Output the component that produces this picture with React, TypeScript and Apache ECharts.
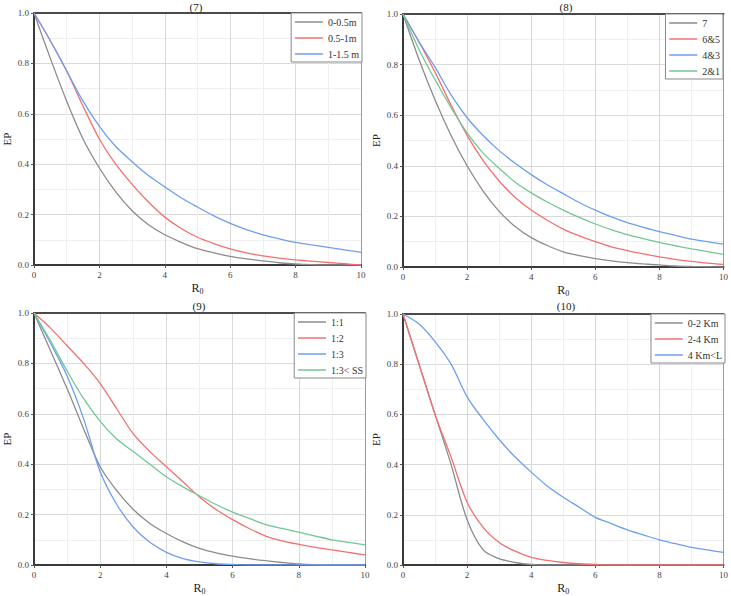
import React, { useEffect, useRef } from "react";
import * as echarts from "echarts";

// Shared R0 sample positions (step 0.5)
const r0 = [0, 0.5, 1, 1.5, 2, 2.5, 3, 3.5, 4, 4.5, 5, 5.5, 6, 6.5, 7, 7.5, 8, 8.5, 9, 9.5, 10];

// (7)
const ep7a = [1, 0.82, 0.65, 0.5, 0.385, 0.29, 0.215, 0.16, 0.12, 0.09, 0.065, 0.048, 0.034, 0.024, 0.016, 0.009, 0.004, 0.001, 0, 0, 0];
const ep7b = [1, 0.89, 0.77, 0.63, 0.5, 0.4, 0.32, 0.25, 0.19, 0.145, 0.11, 0.085, 0.064, 0.048, 0.036, 0.027, 0.02, 0.015, 0.01, 0.005, 0];
const ep7c = [1, 0.89, 0.77, 0.65, 0.55, 0.47, 0.41, 0.355, 0.31, 0.267, 0.23, 0.195, 0.165, 0.14, 0.12, 0.104, 0.09, 0.08, 0.07, 0.06, 0.05];
// (8)
const ep8a = [1, 0.82, 0.66, 0.52, 0.4, 0.3, 0.22, 0.16, 0.116, 0.085, 0.06, 0.045, 0.033, 0.024, 0.017, 0.012, 0.008, 0.004, 0.002, 0.001, 0];
const ep8b = [1, 0.89, 0.77, 0.64, 0.52, 0.42, 0.34, 0.275, 0.225, 0.185, 0.15, 0.123, 0.1, 0.08, 0.065, 0.052, 0.04, 0.03, 0.022, 0.015, 0.01];
const ep8c = [1, 0.89, 0.79, 0.68, 0.59, 0.52, 0.46, 0.41, 0.365, 0.325, 0.29, 0.255, 0.225, 0.198, 0.175, 0.157, 0.14, 0.125, 0.11, 0.1, 0.09];
const ep8d = [1, 0.86, 0.74, 0.63, 0.53, 0.45, 0.39, 0.335, 0.293, 0.257, 0.225, 0.196, 0.17, 0.148, 0.128, 0.112, 0.097, 0.084, 0.072, 0.061, 0.05];
// (9)
const ep9a = [1, 0.85, 0.7, 0.54, 0.39, 0.295, 0.22, 0.165, 0.125, 0.092, 0.066, 0.048, 0.035, 0.025, 0.017, 0.01, 0.004, 0.001, 0, 0, 0];
const ep9b = [1, 0.94, 0.87, 0.8, 0.72, 0.62, 0.52, 0.45, 0.39, 0.33, 0.27, 0.22, 0.18, 0.145, 0.115, 0.096, 0.082, 0.07, 0.06, 0.05, 0.04];
const ep9c = [1, 0.88, 0.75, 0.58, 0.37, 0.24, 0.15, 0.09, 0.05, 0.025, 0.012, 0.005, 0.002, 0, 0, 0, 0, 0, 0, 0, 0];
const ep9d = [1, 0.89, 0.77, 0.66, 0.57, 0.5, 0.45, 0.4, 0.35, 0.31, 0.275, 0.24, 0.21, 0.185, 0.16, 0.145, 0.13, 0.115, 0.1, 0.09, 0.08];
// (10)
const ep10a = [1, 0.8, 0.6, 0.4, 0.18, 0.06, 0.025, 0.01, 0.002, 0, 0, 0, 0, 0, 0, 0, 0, 0, 0, 0, 0];
const ep10b = [1, 0.8, 0.6, 0.43, 0.25, 0.15, 0.09, 0.055, 0.03, 0.018, 0.01, 0.005, 0.002, 0, 0, 0, 0, 0, 0, 0, 0];
const ep10c = [1, 0.96, 0.89, 0.8, 0.67, 0.58, 0.5, 0.43, 0.37, 0.315, 0.27, 0.23, 0.19, 0.165, 0.14, 0.12, 0.1, 0.085, 0.07, 0.06, 0.05];

const titles = ["(7)", "(8)", "(9)", "(10)"];
const names7 = ["0-0.5m", "0.5-1m", "1-1.5 m"];
const names8 = ["7", "6&5", "4&3", "2&1"];
const names9 = ["1:1", "1:2", "1:3", "1:3< SS"];
const names10 = ["0-2 Km", "2-4 Km", "4 Km<L"];

const GRAY = "#8c8c8c";
const RED = "#f27070";
const BLUE = "#6d9ff0";
const GREEN = "#72c795";
const FONT = "Liberation Serif";
const DARK = "#3a3a3a";

const panels = [
  { title: titles[0], names: names7, values: [ep7a, ep7b, ep7c], colors: [GRAY, RED, BLUE],
    grid: { left: 31, top: 13, width: 330, height: 252 }, legend: { right: 369, top: 13 }, titleX: 196, titleY: 1 },
  { title: titles[1], names: names8, values: [ep8a, ep8b, ep8c, ep8d], colors: [GRAY, RED, BLUE, GREEN],
    grid: { left: 403, top: 14, width: 321, height: 253 }, legend: { right: 8, top: 14 }, titleX: 566, titleY: 1 },
  { title: titles[2], names: names9, values: [ep9a, ep9b, ep9c, ep9d], colors: [GRAY, RED, BLUE, GREEN],
    grid: { left: 31, top: 313, width: 334, height: 258 }, legend: { right: 365, top: 313 }, titleX: 199, titleY: 300 },
  { title: titles[3], names: names10, values: [ep10a, ep10b, ep10c], colors: [GRAY, RED, BLUE],
    grid: { left: 403, top: 314, width: 322, height: 255 }, legend: { right: 6, top: 314 }, titleX: 566, titleY: 300 },
];

export default function App() {
  const ref = useRef<HTMLDivElement>(null);

  useEffect(() => {
    if (!ref.current) return;
    const chart = echarts.init(ref.current, undefined, { renderer: "svg" });

    const grid: any[] = [];
    const xAxis: any[] = [];
    const yAxis: any[] = [];
    const title: any[] = [];
    const legend: any[] = [];
    const series: any[] = [];

    const bare = { axisTick: { show: false }, axisLabel: { show: false }, splitLine: { show: false } };
    const split = { show: true, showMinLine: false, showMaxLine: false, lineStyle: { color: "#d9d9d9", width: 1 } };
    const minorSplit = { show: true, lineStyle: { color: "#efefef", width: 1 } };

    panels.forEach((p, i) => {
      grid.push({ ...p.grid });
      title.push({
        text: p.title, left: p.titleX, top: p.titleY, textAlign: "center", padding: 0,
        textStyle: { fontFamily: FONT, fontSize: 11, fontWeight: "normal", color: "#222" },
      });
      legend.push({
        data: p.names, orient: "vertical", right: p.legend.right, top: p.legend.top,
        itemWidth: 28, itemHeight: 10, itemGap: 6,
        itemStyle: { opacity: 0 },
        lineStyle: { width: 1.5 },
        padding: [4, 3, 3, 3], borderColor: "#888", borderWidth: 1, backgroundColor: "#fff",
        textStyle: { fontFamily: FONT, fontSize: 10, color: "#333" },
      });
      // bottom axis with labels and gridlines
      xAxis.push({
        type: "value", gridIndex: i, min: 0, max: 10, interval: 2,
        name: "{r|R}{s|0}", nameLocation: "middle", nameGap: 16,
        nameTextStyle: {
          rich: {
            r: { fontFamily: FONT, fontSize: 12, color: "#222" },
            s: { fontFamily: FONT, fontSize: 8, color: "#222", verticalAlign: "bottom", padding: [6, 0, 0, 0] },
          },
        },
        axisLine: { show: true, onZero: false, lineStyle: { color: DARK, width: 2 } },
        axisTick: { show: true, length: 3, lineStyle: { color: "#555" } },
        axisLabel: { fontFamily: FONT, fontSize: 9, color: "#444", margin: 5 },
        splitLine: split,
        minorTick: { show: false, splitNumber: 2 },
        minorSplitLine: minorSplit,
      });
      // top frame edge
      xAxis.push({
        type: "value", gridIndex: i, min: 0, max: 10, position: "top",
        axisLine: { show: true, onZero: false, lineStyle: { color: "#4a4a4a", width: 2 } },
        ...bare,
      });
      // left axis with labels and gridlines
      yAxis.push({
        type: "value", gridIndex: i, min: 0, max: 1, interval: 0.2, position: "left",
        name: "EP", nameLocation: "middle", nameGap: 22, nameRotate: 90,
        nameTextStyle: { fontFamily: FONT, fontSize: 11, color: "#222" },
        axisLine: { show: true, onZero: false, lineStyle: { color: DARK, width: 2 } },
        axisTick: { show: true, length: 3, lineStyle: { color: "#555" } },
        axisLabel: { fontFamily: FONT, fontSize: 9, color: "#444", margin: 5, formatter: (v: number) => v.toFixed(1) },
        splitLine: split,
        minorTick: { show: false, splitNumber: 2 },
        minorSplitLine: minorSplit,
      });
      // right frame edge
      yAxis.push({
        type: "value", gridIndex: i, min: 0, max: 1, position: "right",
        axisLine: { show: true, onZero: false, lineStyle: { color: "#9a9a9a", width: 1 } },
        ...bare,
      });
      p.names.forEach((name, k) => {
        series.push({
          type: "line", name, xAxisIndex: 2 * i, yAxisIndex: 2 * i,
          data: r0.map((x, j) => [x, p.values[k][j]]),
          symbol: "none", showSymbol: false, smooth: 0.3,
          lineStyle: { color: p.colors[k], width: 1.3 }, itemStyle: { color: p.colors[k] },
          z: 3,
        });
      });
    });

    chart.setOption({
      animation: false,
      backgroundColor: "#fff",
      textStyle: { fontFamily: FONT },
      title, legend, grid, xAxis, yAxis, series,
    });

    return () => chart.dispose();
  }, []);

  return (
    <div
      ref={ref}
      style={{ position: "fixed", left: 0, top: 0, width: 731, height: 596, background: "#fff" }}
    />
  );
}
